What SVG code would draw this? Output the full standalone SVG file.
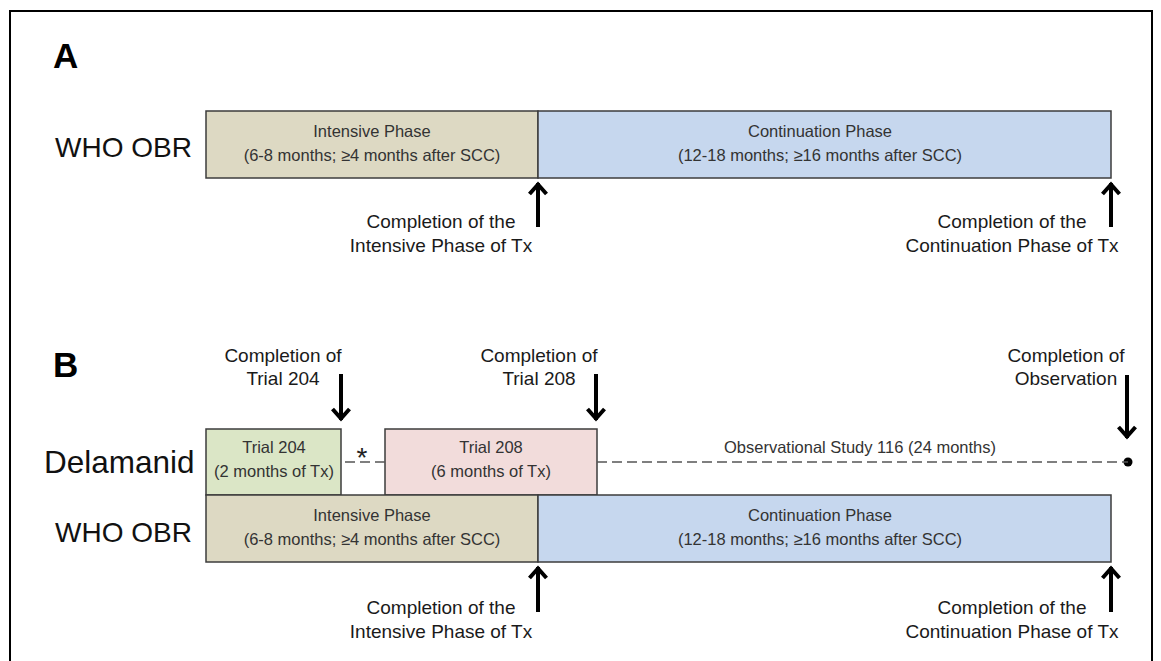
<svg xmlns="http://www.w3.org/2000/svg" width="1161" height="661" viewBox="0 0 1161 661">
<defs>
<marker id="head" markerUnits="userSpaceOnUse" markerWidth="30" markerHeight="30" viewBox="-15 -15 30 30" refX="0" refY="0" orient="auto" overflow="visible">
<path d="M-11,-8.5 L-1.5,0 L-11,8.5" fill="none" stroke="#000" stroke-width="4"/>
</marker>
</defs>
<style>
.box{stroke:#3c3c3c;stroke-width:1.5}
.bt{font-family:"Liberation Sans",Arial,sans-serif;font-size:16.5px;fill:#333;text-anchor:middle}
.ann{font-family:"Liberation Sans",Arial,sans-serif;font-size:19px;fill:#1a1a1a;text-anchor:middle}
.lab{font-family:"Liberation Sans",Arial,sans-serif;fill:#111}
.ttl{font-family:"Liberation Sans",Arial,sans-serif;font-size:35px;font-weight:bold;fill:#000}
.arr{stroke:#000;stroke-width:4;fill:none;marker-end:url(#head)}
.dash{stroke:#555;stroke-width:1.5;stroke-dasharray:10 5;fill:none}
.int{fill:#ddd9c3}
.con{fill:#c6d7ee}
</style>
<rect width="1161" height="661" fill="#fff"/>
<path d="M10,661 V11 H1152 V661" fill="none" stroke="#000" stroke-width="2"/>

<g id="panelA">
<text class="ttl" x="53" y="68">A</text>
<text class="lab" x="55" y="157" font-size="28">WHO OBR</text>
</g>
<g id="A-intensive">
<rect class="box int" x="206" y="111" width="332" height="67"/>
<text class="bt" x="372" y="137">Intensive Phase</text>
<text class="bt" x="372" y="161">(6-8 months; ≥4 months after SCC)</text>
</g>
<g id="A-continuation">
<rect class="box con" x="538" y="111" width="573" height="67"/>
<text class="bt" x="820" y="137">Continuation Phase</text>
<text class="bt" x="820" y="161">(12-18 months; ≥16 months after SCC)</text>
</g>
<g id="A-ann-intensive">
<text class="ann" x="441" y="228">Completion of the</text>
<text class="ann" x="441" y="252">Intensive Phase of Tx</text>
</g>
<g id="A-ann-continuation">
<text class="ann" x="1012" y="228">Completion of the</text>
<text class="ann" x="1012" y="252">Continuation Phase of Tx</text>
</g>

<g id="panelB">
<text class="ttl" x="53" y="377">B</text>
<text class="lab" x="44" y="473" font-size="31.5">Delamanid</text>
<text class="lab" x="55" y="542" font-size="28">WHO OBR</text>
</g>
<g id="B-trial204">
<rect class="box" fill="#dbe6c6" x="206" y="429" width="135" height="66"/>
<text class="bt" x="274" y="453">Trial 204</text>
<text class="bt" x="274" y="477">(2 months of Tx)</text>
</g>
<g id="B-trial208">
<rect class="box" fill="#f2dcdb" x="385" y="429" width="212" height="66"/>
<text class="bt" x="491" y="453">Trial 208</text>
<text class="bt" x="491" y="477">(6 months of Tx)</text>
</g>
<g id="B-intensive">
<rect class="box int" x="206" y="495" width="332" height="67"/>
<text class="bt" x="372" y="521">Intensive Phase</text>
<text class="bt" x="372" y="545">(6-8 months; ≥4 months after SCC)</text>
</g>
<g id="B-continuation">
<rect class="box con" x="538" y="495" width="573" height="67"/>
<text class="bt" x="820" y="521">Continuation Phase</text>
<text class="bt" x="820" y="545">(12-18 months; ≥16 months after SCC)</text>
</g>
<g id="B-observation">
<text class="bt" x="860" y="453">Observational Study 116 (24 months)</text>
<circle cx="1128" cy="462" r="4.5" fill="#000"/>
</g>
<g id="B-ann-204">
<text class="ann" x="283" y="362">Completion of</text>
<text class="ann" x="283" y="385">Trial 204</text>
</g>
<g id="B-ann-208">
<text class="ann" x="539" y="362">Completion of</text>
<text class="ann" x="539" y="385">Trial 208</text>
</g>
<g id="B-ann-obs">
<text class="ann" x="1066" y="362">Completion of</text>
<text class="ann" x="1066" y="385">Observation</text>
</g>
<g id="B-ann-intensive">
<text class="ann" x="441" y="614">Completion of the</text>
<text class="ann" x="441" y="638">Intensive Phase of Tx</text>
</g>
<g id="B-ann-continuation">
<text class="ann" x="1012" y="614">Completion of the</text>
<text class="ann" x="1012" y="638">Continuation Phase of Tx</text>
</g>

<g id="connectors">
<path class="arr" d="M538,227 V183"/>
<path class="arr" d="M1111,227 V183"/>
<path class="arr" d="M341,374 V420"/>
<path class="arr" d="M596,374 V420"/>
<path class="arr" d="M1127,375 V438"/>
<path class="arr" d="M538,612 V567"/>
<path class="arr" d="M1111,612 V567"/>
<path class="dash" d="M345,462 H385"/>
<text x="362" y="467" font-family="Liberation Sans, Arial, sans-serif" font-size="28" fill="#222" text-anchor="middle">*</text>
<path class="dash" d="M597,462 H1128"/>
</g>
</svg>
